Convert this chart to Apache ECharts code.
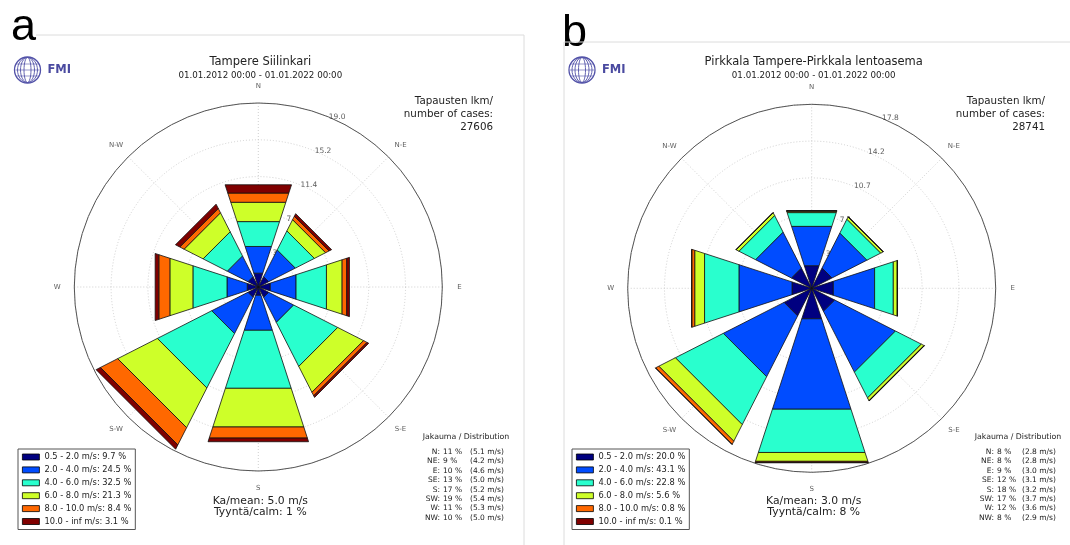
<!DOCTYPE html>
<html>
<head>
<meta charset="utf-8">
<script src="https://cdn.jsdelivr.net/npm/echarts@6/dist/echarts.min.js"></script>
<style>
  html, body { margin: 0; padding: 0; background: #fff; }
  #chart { width: 1070px; height: 545px; }
</style>
</head>
<body>
<div id="chart"></div>
<script>
// Wind direction sectors (degrees clockwise from north)
const dirAngles = [0, 45, 90, 135, 180, 225, 270, 315];
const dirLabels = ['N', 'N-E', 'E', 'S-E', 'S', 'S-W', 'W', 'N-W'];
const dirShort = ['N', 'NE', 'E', 'SE', 'S', 'SW', 'W', 'NW'];
const speedBins = ['0.5 - 2.0', '2.0 - 4.0', '4.0 - 6.0', '6.0 - 8.0', '8.0 - 10.0', '10.0 - inf'];
const binColors = ['#000080', '#004cff', '#29ffce', '#ceff29', '#ff6800', '#800000'];

// Tampere Siilinkari: frequency (%) per direction, one array per speed bin
const siilinkariBin1 = [1.5, 1.2, 1.3, 1.2, 0.9, 1.2, 1.2, 1.2];
const siilinkariBin2 = [2.9, 3.1, 2.8, 2.9, 3.8, 4.2, 2.2, 2.4];
const siilinkariBin3 = [2.7, 2.2, 3.3, 5.1, 6.3, 6.3, 3.7, 2.8];
const siilinkariBin4 = [2.1, 1.3, 1.7, 3.0, 4.2, 4.6, 2.5, 2.2];
const siilinkariBin5 = [1.0, 0.4, 0.5, 0.4, 1.2, 2.0, 1.2, 0.5];
const siilinkariBin6 = [0.9, 0.3, 0.3, 0.2, 0.4, 0.5, 0.4, 0.5];
const siilinkariBinShare = [9.7, 24.5, 32.5, 21.3, 8.4, 3.1];
const siilinkariDirShare = [11, 9, 10, 13, 17, 19, 11, 10];
const siilinkariDirMean = [5.1, 4.2, 4.6, 5.0, 5.2, 5.4, 5.3, 5.0];
const siilinkariRings = [3.8, 7.6, 11.4, 15.2, 19.0];

// Pirkkala Tampere-Pirkkala lentoasema
const pirkkalaBin1 = [2.3, 2.2, 2.2, 2.5, 3.1, 3.0, 2.0, 2.2];
const pirkkalaBin2 = [4.0, 3.8, 4.2, 6.6, 9.2, 6.6, 5.4, 3.9];
const pirkkalaBin3 = [1.4, 1.5, 1.9, 2.8, 4.4, 5.2, 3.5, 1.8];
const pirkkalaBin4 = [0.15, 0.25, 0.4, 0.3, 0.9, 1.8, 1.0, 0.3];
const pirkkalaBin5 = [0.03, 0.02, 0.02, 0.03, 0.1, 0.35, 0.3, 0.02];
const pirkkalaBin6 = [0.02, 0.01, 0.01, 0.01, 0.05, 0.02, 0.01, 0.01];
const pirkkalaBinShare = [20.0, 43.1, 22.8, 5.6, 0.8, 0.1];
const pirkkalaDirShare = [8, 8, 9, 12, 18, 17, 12, 8];
const pirkkalaDirMean = [2.8, 2.8, 3.0, 3.1, 3.2, 3.7, 3.6, 2.9];
const pirkkalaRings = [3.56, 7.12, 10.68, 14.24, 17.8];

const stations = [
  {
    title: 'Tampere Siilinkari', period: '01.01.2012 00:00 - 01.01.2022 00:00',
    cases: '27606', mean: 'Ka/mean: 5.0 m/s', calm: 'Tyyntä/calm: 1 %',
    bins: [siilinkariBin1, siilinkariBin2, siilinkariBin3, siilinkariBin4, siilinkariBin5, siilinkariBin6],
    share: siilinkariBinShare, dirShare: siilinkariDirShare, dirMean: siilinkariDirMean, rings: siilinkariRings,
    center: [258.3, 287], radius: 184, letter: 'a', letterX: 11, letterY: 28,
    casesX: 493, distKeyX: 440, distValX: 443, distMeanX: 470, distHeadX: 466, logoX: 27.5
  },
  {
    title: 'Pirkkala Tampere-Pirkkala lentoasema', period: '01.01.2012 00:00 - 01.01.2022 00:00',
    cases: '28741', mean: 'Ka/mean: 3.0 m/s', calm: 'Tyyntä/calm: 8 %',
    bins: [pirkkalaBin1, pirkkalaBin2, pirkkalaBin3, pirkkalaBin4, pirkkalaBin5, pirkkalaBin6],
    share: pirkkalaBinShare, dirShare: pirkkalaDirShare, dirMean: pirkkalaDirMean, rings: pirkkalaRings,
    center: [811.7, 288.3], radius: 184, letter: 'b', letterX: 562, letterY: 34,
    casesX: 1045, distKeyX: 994, distValX: 997, distMeanX: 1022, distHeadX: 1018, logoX: 582
  }
];

const FONT = '"DejaVu Sans", "Liberation Sans", sans-serif';
const HALF_WIDTH = 18; // half of the sector opening, degrees

function wedgeSeries(name, color, polarIndex, inner, outer) {
  return {
    type: 'custom',
    name: name,
    coordinateSystem: 'polar',
    polarIndex: polarIndex,
    itemStyle: { color: color, borderColor: '#000', borderWidth: 0.8 },
    dimensions: ['angle', 'r0', 'r1'],
    encode: { angle: 0, radius: 2 },
    z: 3,
    silent: true,
    data: dirAngles.map((a, i) => [a, inner[i], outer[i]]),
    renderItem: function (params, api) {
      const a = api.value(0), r0 = api.value(1), r1 = api.value(2);
      const pts = [[r0, a - HALF_WIDTH], [r1, a - HALF_WIDTH], [r1, a + HALF_WIDTH], [r0, a + HALF_WIDTH]]
        .map(p => api.coord(p).slice(0, 2));
      return {
        type: 'polygon',
        shape: { points: pts },
        style: { fill: color, stroke: '#111', lineWidth: 0.8, lineJoin: 'miter' }
      };
    }
  };
}

const polar = [], angleAxis = [], radiusAxis = [], series = [], legend = [], graphic = [];

stations.forEach((st, k) => {
  const rMax = st.rings[st.rings.length - 1];
  polar.push({ center: st.center, radius: st.radius });
  angleAxis.push({
    polarIndex: k, type: 'value', min: 0, max: 360, interval: 45,
    startAngle: 90, clockwise: true,
    axisLine: { lineStyle: { color: '#555', width: 1 } },
    axisTick: { show: false }, axisLabel: { show: false },
    splitLine: { lineStyle: { color: '#c4c4c4', type: [1, 2], width: 0.8 } }
  });
  radiusAxis.push({
    polarIndex: k, type: 'value', min: 0, max: rMax, interval: st.rings[0],
    axisLine: { show: false }, axisTick: { show: false }, axisLabel: { show: false },
    splitLine: { lineStyle: { color: '#c4c4c4', type: [1, 2], width: 0.8 } }
  });

  // stacked speed bins
  const names = [];
  let base = dirAngles.map(() => 0);
  st.bins.forEach((bin, b) => {
    const top = base.map((v, i) => v + bin[i]);
    const name = speedBins[b] + ' m/s: ' + st.share[b].toFixed(1) + ' %';
    names.push(name);
    series.push(wedgeSeries(name, binColors[b], k, base, top));
    base = top;
  });

  // ring value labels along 22.5 degrees
  series.push({
    type: 'scatter', coordinateSystem: 'polar', polarIndex: k, symbolSize: 0, z: 1, silent: true,
    clip: false,
    data: st.rings.map(r => [r, 22.5]),
    label: {
      show: true, position: 'right', distance: 0,
      formatter: p => p.value[0].toFixed(1),
      fontFamily: FONT, fontSize: 7.5, color: '#333'
    }
  });
  // compass direction labels just outside the frame
  series.push({
    type: 'scatter', coordinateSystem: 'polar', polarIndex: k, symbolSize: 0, z: 1, silent: true,
    clip: false,
    data: dirAngles.map(a => [rMax * 1.093, a]),
    label: {
      show: true, position: 'inside',
      formatter: p => dirLabels[p.dataIndex],
      fontFamily: FONT, fontSize: 7, color: '#333'
    }
  });

  legend.push({
    data: names, orient: 'vertical',
    left: k === 0 ? 18 : 572, top: 449,
    padding: [3, 4, 3, 4], itemGap: 2.9, itemWidth: 17, itemHeight: 6, icon: 'rect',
    borderColor: '#555', borderWidth: 1, selectedMode: false,
    itemStyle: { borderColor: '#000', borderWidth: 0.8 },
    textStyle: { fontFamily: FONT, fontSize: 8.3, color: '#222', lineHeight: 10 }
  });

  const cx = st.center[0];
  const txt = (x, y, text, size, align, extra) => Object.assign({
    type: 'text', x: x, y: y, silent: true,
    style: {
      text: text, font: size + 'px ' + FONT, fill: '#222',
      align: align, textAlign: align, verticalAlign: 'middle', textVerticalAlign: 'middle'
    }
  }, extra || {});

  graphic.push(txt(cx + 2, 62.5, st.title, 11.5, 'center'));
  graphic.push(txt(cx + 2, 75.5, st.period, 8.7, 'center'));
  graphic.push(txt(st.casesX, 101, 'Tapausten lkm/', 10.3, 'right'));
  graphic.push(txt(st.casesX, 114.5, 'number of cases:', 10.3, 'right'));
  graphic.push(txt(st.casesX, 127.5, st.cases, 10.3, 'right'));
  graphic.push(txt(cx + 2, 501, st.mean, 10.8, 'center'));
  graphic.push(txt(cx + 2, 512.5, st.calm, 10.8, 'center'));
  graphic.push(txt(st.distHeadX, 436.5, 'Jakauma / Distribution', 7.8, 'center'));
  dirShort.forEach((d, i) => {
    const y = 452 + i * 9.4;
    graphic.push(txt(st.distKeyX, y, d + ':', 7.5, 'right'));
    graphic.push(txt(st.distValX, y, st.dirShare[i] + ' %', 7.5, 'left'));
    graphic.push(txt(st.distMeanX, y, '(' + st.dirMean[i].toFixed(1) + ' m/s)', 7.5, 'left'));
  });

  // panel letter
  graphic.push({
    type: 'text', x: st.letterX, y: st.letterY, silent: true,
    style: { text: st.letter, font: '45px "Liberation Sans", Arial, sans-serif', fill: '#000',
      align: 'left', textAlign: 'left', verticalAlign: 'middle', textVerticalAlign: 'middle' }
  });

  // FMI emblem
  const lx = st.logoX, ly = 70;
  const logo = { type: 'group', x: lx, y: ly, silent: true, children: [
    { type: 'circle', shape: { cx: 0, cy: 0, r: 13 }, style: { fill: '#fff', stroke: '#5252a8', lineWidth: 1.3 } }
  ] };
  [3.5, 7, 10].forEach(rx => logo.children.push({
    type: 'ellipse', shape: { cx: 0, cy: 0, rx: rx, ry: 12.5 }, style: { fill: 'none', stroke: '#5252a8', lineWidth: 0.9 }
  }));
  [-6, 0, 6].forEach(dy => logo.children.push({
    type: 'line', shape: { x1: -12, y1: dy, x2: 12, y2: dy }, style: { stroke: '#5252a8', lineWidth: 0.6 }
  }));
  logo.children.push({
    type: 'text', x: 20, y: 0,
    style: { text: 'FMI', font: 'bold 11.5px ' + FONT, fill: '#4a4aa0',
      align: 'left', textAlign: 'left', verticalAlign: 'middle', textVerticalAlign: 'middle' }
  });
  graphic.push(logo);
});

// panel frames
graphic.push({ type: 'polyline', silent: true, shape: { points: [[36, 35], [524, 35], [524, 545]] },
  style: { fill: 'none', stroke: '#dcdcdc', lineWidth: 1 } });
graphic.push({ type: 'polyline', silent: true, shape: { points: [[564, 545], [564, 42], [1070, 42]] },
  style: { fill: 'none', stroke: '#dcdcdc', lineWidth: 1 } });

const chart = echarts.init(document.getElementById('chart'), null, { renderer: 'canvas' });
chart.setOption({
  backgroundColor: '#fff',
  animation: false,
  polar: polar,
  angleAxis: angleAxis,
  radiusAxis: radiusAxis,
  legend: legend,
  series: series,
  graphic: graphic
});
</script>
</body>
</html>
